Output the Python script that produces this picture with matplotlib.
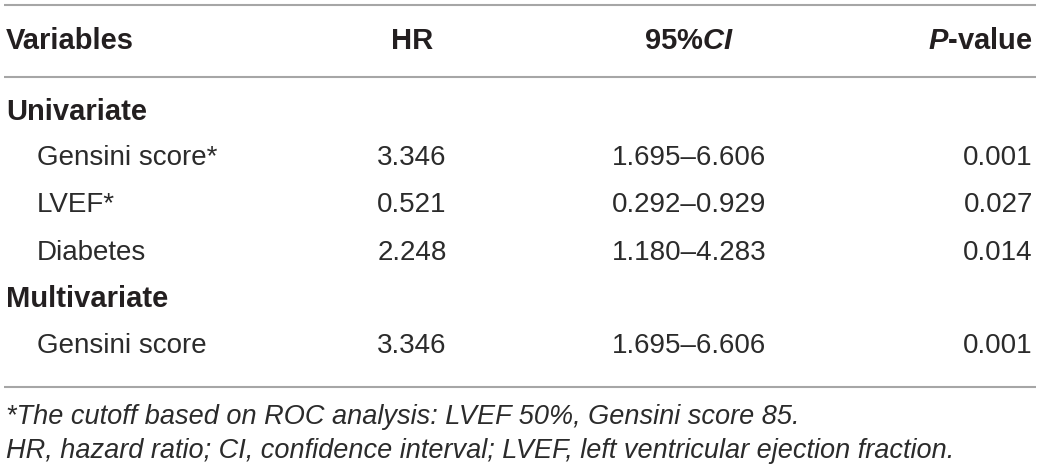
import matplotlib
matplotlib.use("Agg")
import matplotlib.pyplot as plt

plt.rcParams["mathtext.fontset"] = "custom"
plt.rcParams["mathtext.bfit"] = "Liberation Sans:bold:italic"
plt.rcParams["mathtext.it"] = "Liberation Sans:italic"
plt.rcParams["mathtext.bf"] = "Liberation Sans:bold"
plt.rcParams["mathtext.rm"] = "Liberation Sans"

# ---- data ----
columns = ["Variables", "HR", "95%CI", "P-value"]
groups = ["Univariate", "Multivariate"]
uni_vars = ["Gensini score*", "LVEF*", "Diabetes"]
uni_hr = ["3.346", "0.521", "2.248"]
uni_ci = ["1.695\u20136.606", "0.292\u20130.929", "1.180\u20134.283"]
uni_p = ["0.001", "0.027", "0.014"]
multi_vars = ["Gensini score"]
multi_hr = ["3.346"]
multi_ci = ["1.695\u20136.606"]
multi_p = ["0.001"]
footnotes = [
    "*The cutoff based on ROC analysis: LVEF 50%, Gensini score 85.",
    "HR, hazard ratio; CI, confidence interval; LVEF, left ventricular ejection fraction.",
]

W, H = 1040, 470
fig = plt.figure(figsize=(W / 100, H / 100), dpi=100)
ax = fig.add_axes([0, 0, 1, 1])
ax.set_xlim(0, W)
ax.set_ylim(H, 0)
ax.axis("off")

FONT = "Liberation Sans"
DARK = "#231f20"
BODY = "#2b2b2b"
LINE = "#a6a6a6"
FS_B = 21
FS = 20
FS_NOTE = 19.5

x_var, x_ind, x_hr, x_ci, x_p = 6, 37, 412, 689, 1033

def hline(y):
    ax.plot([4, 1036], [y, y], color=LINE, lw=1.5, solid_capstyle="butt")

hline(5)
hline(77)
hline(387)

# header
yh = 41
hk = dict(fontsize=FS_B, fontweight="bold", family=FONT, color=DARK, va="center")
ax.text(x_var, yh, columns[0], ha="left", **hk)
ax.text(x_hr, yh, columns[1], ha="center", **hk)
ax.text(x_ci, yh, r"95%$\mathbfit{CI}$", ha="center", **hk)
ax.text(x_p, yh, r"$\mathbfit{P}$-value", ha="right", **hk)

def group_row(y, label):
    ax.text(x_var, y, label, fontsize=FS_B, fontweight="bold", family=FONT, color=DARK, va="center", ha="left")

def data_row(y, v, hr, ci, p):
    kw = dict(fontsize=FS, family=FONT, color=BODY, va="center")
    ax.text(x_ind, y, v, ha="left", **kw)
    ax.text(x_hr, y, hr, ha="center", **kw)
    ax.text(x_ci, y, ci, ha="center", **kw)
    ax.text(x_p, y, p, ha="right", **kw)

group_row(112, groups[0])
for i, yy in enumerate([158, 205, 253]):
    data_row(yy, uni_vars[i], uni_hr[i], uni_ci[i], uni_p[i])
group_row(299, groups[1])
data_row(346, multi_vars[0], multi_hr[0], multi_ci[0], multi_p[0])

for yy, t in zip([417, 451], footnotes):
    ax.text(x_var, yy, t, fontsize=FS_NOTE, family=FONT, style="italic", color=BODY, va="center", ha="left")

fig.savefig("out.png", dpi=100)
